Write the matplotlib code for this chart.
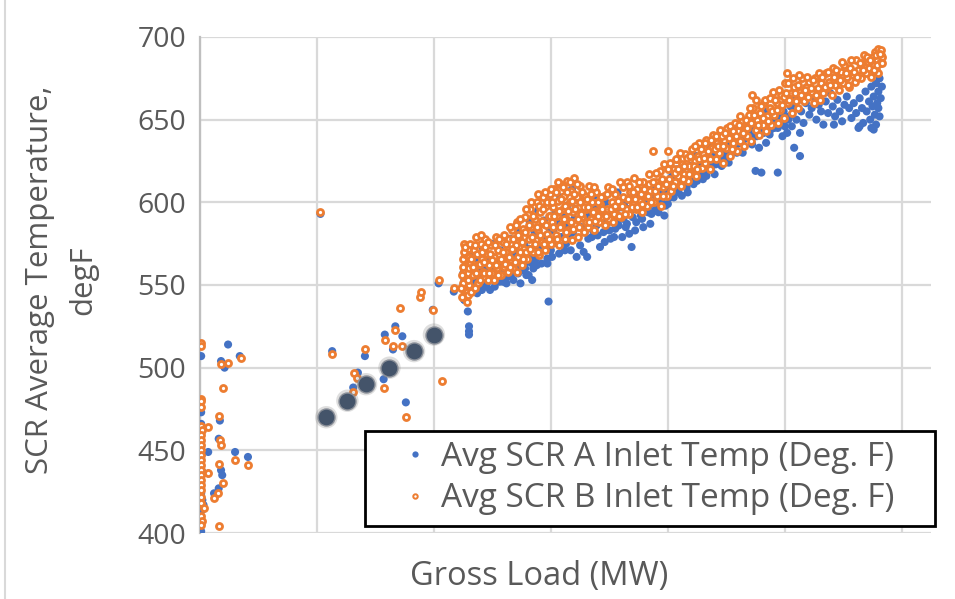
import matplotlib.pyplot as plt
from matplotlib.lines import Line2D
from matplotlib.patches import Rectangle

# ---- data (gross load in arbitrary MW units, temperature in degF) ----
# startup / low load points
a_low = [(1, 507), (1, 473), (1, 466), (1, 463), (1, 460), (1, 455), (1, 452), (2, 448),
         (1, 445), (1, 440), (2, 437), (1, 430), (1, 427), (1, 424), (2, 420), (3, 417),
         (2, 414), (1, 401), (24, 514), (18, 504), (21, 500), (34, 507), (17, 468),
         (16, 457), (7, 449), (30, 449), (41, 446), (18, 438), (19, 435), (7, 436),
         (12, 424), (16, 427)]
b_low = [(1, 515), (1, 513), (1, 481), (1, 480), (1, 476), (1, 465), (2, 462), (1, 459),
         (1, 456), (1, 453), (1, 450), (1, 447), (1, 444), (1, 441), (1, 438), (1, 435),
         (1, 432), (1, 429), (1, 426), (1, 422), (1, 418), (3, 415), (1, 410), (2, 407),
         (1, 405), (24, 503), (18, 502), (35, 506), (20, 488), (16, 471), (7, 464),
         (17, 456), (18, 453), (30, 444), (41, 441), (16, 442), (7, 436), (20, 430),
         (15, 424), (12, 421), (16, 404)]

# ramp between startup and the main operating band
a_ramp = [(103, 593), (113, 510), (141, 507), (135, 497), (131, 488), (157, 493),
          (158, 520), (167, 525), (165, 511), (173, 519), (199, 535), (204, 551),
          (217, 546), (176, 479), (226, 541)]
b_ramp = [(103, 594), (113, 508), (141, 511), (132, 497), (134, 494), (131, 485),
          (157, 488), (158, 517), (167, 523), (165, 513), (173, 513), (171, 536),
          (188, 543), (189, 546), (199, 535), (204, 553), (217, 548), (207, 492),
          (176, 470), (226, 544)]

# highlighted points
hl = [(108, 470), (126, 480), (142, 490), (162, 500), (183, 510), (200, 520)]

# main operating band
a_main = [(226, 541), (227, 545), (229, 534), (230, 525), (230, 522), (230, 520), (228, 549),
          (226, 553), (229, 558), (227, 564), (231, 570),
          (234, 552), (236, 566), (238, 548), (240, 560), (242, 572), (244, 551), (245, 549),
          (247, 566), (249, 556), (251, 575), (253, 553), (255, 563), (257, 571), (259, 552),
          (261, 566), (263, 555), (265, 578), (267, 560), (269, 570), (271, 562), (273, 583),
          (275, 559), (277, 575), (279, 556), (280, 564), (282, 588), (283, 568), (285, 560),
          (286, 582), (287, 566), (289, 595), (290, 573), (292, 563), (294, 589), (295, 578),
          (297, 566), (298, 540), (299, 600), (300, 571), (281, 556), (284, 553), (297, 563),
          (302, 583), (304, 594), (306, 575), (308, 603), (310, 585), (312, 571), (314, 598),
          (316, 580), (318, 608), (320, 590), (322, 567), (324, 601), (326, 585), (328, 570),
          (331, 567), (333, 592), (335, 579), (337, 604), (339, 586), (342, 573), (343, 595),
          (345, 582), (347, 600), (349, 588), (351, 578), (353, 597), (355, 584), (357, 606),
          (359, 590), (361, 579), (363, 600), (365, 587), (367, 581), (369, 573), (371, 596),
          (373, 588), (375, 607), (377, 592), (379, 585), (381, 600), (383, 594), (385, 587),
          (387, 605), (389, 595), (391, 598), (393, 611), (395, 600), (397, 592), (399, 606),
          (400, 599),
          (402, 603), (404, 616), (406, 608), (408, 620), (410, 612), (412, 604), (414, 617),
          (416, 609), (418, 616), (420, 620), (422, 611), (424, 628), (426, 618), (428, 623),
          (430, 614), (432, 629), (434, 620), (436, 634), (438, 624), (440, 617), (442, 631),
          (444, 626), (446, 622), (448, 637), (450, 630), (452, 624), (454, 640), (456, 633),
          (459, 630), (460, 644), (462, 636), (464, 630), (466, 641), (475, 619), (480, 618),
          (472, 635), (474, 645), (476, 640), (478, 633), (481, 647), (482, 642), (484, 636),
          (486, 650), (488, 644), (494, 618), (492, 648), (494, 645), (496, 653), (498, 640),
          (500, 646), (502, 642), (508, 633), (513, 628), (513, 642),
          (504, 652), (506, 646), (508, 658), (510, 650), (512, 662), (514, 655), (516, 648),
          (518, 660), (520, 668), (521, 653), (523, 657), (525, 664), (527, 650), (529, 659),
          (531, 655), (533, 647), (535, 661), (537, 654), (539, 666), (541, 658), (543, 652),
          (545, 662), (547, 655), (549, 649), (551, 659), (553, 664), (555, 657), (557, 651),
          (559, 660), (561, 654), (563, 645), (564, 663), (566, 657), (567, 648), (569, 667),
          (570, 655), (572, 661), (573, 650), (574, 670), (575, 658), (576, 664), (577, 653),
          (578, 672), (579, 660), (580, 667), (581, 675), (582, 663), (583, 670), (580, 657),
          (581, 652), (578, 647), (576, 644), (564, 646), (574, 645), (542, 647)]

# A points sitting mostly underneath the B band
a_fill = [(225, 557), (228, 553), (232, 549), (235, 558), (237, 545), (239, 555), (241, 547),
          (243, 560), (246, 552), (248, 547), (250, 560), (252, 549), (254, 558), (256, 552),
          (258, 560), (260, 556), (262, 551), (264, 562), (266, 556), (268, 553), (270, 566),
          (272, 557), (274, 551), (276, 566), (278, 560), (281, 572), (284, 563), (286, 571),
          (288, 562), (291, 578), (293, 571), (296, 575), (299, 584), (301, 567), (303, 576),
          (305, 588), (307, 569), (309, 579), (311, 591), (313, 575), (315, 586), (317, 571),
          (319, 582), (321, 596), (323, 585), (325, 574), (327, 595), (329, 582), (332, 578),
          (334, 590), (336, 583), (338, 596), (340, 580), (344, 588), (346, 576), (348, 593),
          (350, 583), (352, 591), (354, 579), (356, 596), (358, 586), (360, 597), (362, 590),
          (364, 585), (366, 596), (368, 602), (370, 591), (372, 583), (374, 597), (376, 603),
          (378, 590), (380, 596), (382, 607), (384, 598), (386, 593), (388, 608), (390, 601),
          (392, 594), (394, 605), (396, 613), (398, 598), (401, 610), (403, 615), (405, 603),
          (407, 612), (409, 606), (411, 620), (413, 610), (415, 614), (417, 606), (419, 622),
          (421, 615), (423, 620), (425, 613), (427, 624), (429, 618), (431, 625), (433, 616),
          (435, 627), (437, 620), (439, 630), (441, 623), (443, 635), (445, 628), (447, 632),
          (449, 627), (451, 636), (453, 631), (455, 642), (457, 637), (459, 635), (461, 640),
          (463, 645), (465, 638), (467, 648), (469, 642), (471, 650), (473, 640), (477, 649),
          (479, 644), (483, 648), (485, 655), (487, 641), (489, 652), (491, 645), (493, 651),
          (495, 658), (497, 648), (499, 655), (501, 660), (503, 650), (505, 658), (507, 662)]

b_main = [(224, 543), (226, 547), (225, 551), (227, 555), (226, 559), (228, 562), (225, 566),
          (227, 569), (229, 572), (226, 575), (228, 546), (230, 550), (229, 557), (231, 563),
          (228, 540), (230, 567),
          (233, 556), (234, 571), (236, 579), (237, 562), (238, 551), (240, 575), (241, 566),
          (242, 558), (244, 578), (245, 569), (246, 553), (247, 562), (249, 574), (250, 557),
          (251, 567), (253, 579), (254, 560), (255, 571), (257, 556), (258, 565), (259, 576),
          (260, 561),
          (262, 570), (263, 558), (264, 578), (266, 565), (267, 583), (268, 560), (270, 574),
          (271, 588), (272, 567), (273, 579), (275, 562), (276, 584), (277, 572), (278, 591),
          (280, 566), (281, 578), (282, 596), (283, 585), (285, 570), (286, 590), (287, 577),
          (288, 600), (289, 583), (290, 568), (291, 594), (292, 576), (293, 603), (294, 587),
          (295, 571), (296, 598), (297, 581), (298, 592), (299, 605), (300, 575), (301, 588),
          (302, 597), (303, 608), (304, 580), (305, 592), (306, 601), (307, 574), (308, 611),
          (309, 586), (310, 596), (311, 604), (312, 578), (313, 590), (314, 613), (315, 583),
          (316, 600), (317, 607), (318, 577), (319, 594), (320, 615), (321, 586), (322, 603),
          (323, 579), (324, 597), (325, 610),
          (327, 591), (328, 582), (329, 604), (330, 596), (332, 585), (333, 610), (334, 590),
          (335, 600), (337, 583), (338, 595), (339, 606), (341, 588), (342, 599), (343, 591),
          (345, 604), (346, 586), (348, 596), (349, 609), (350, 590), (352, 600), (353, 588),
          (355, 605), (356, 593), (358, 598), (359, 612), (360, 591),
          (362, 603), (364, 596), (365, 612), (367, 593), (368, 606), (370, 599), (371, 615),
          (373, 596), (374, 608), (376, 601), (378, 594), (379, 612), (381, 604), (382, 598),
          (384, 617), (385, 607), (387, 631), (388, 600), (390, 612), (391, 604), (393, 619),
          (394, 598), (396, 609), (397, 623), (399, 604), (400, 631), (401, 614),
          (403, 607), (405, 620), (406, 612), (408, 626), (409, 616), (411, 610), (412, 623),
          (414, 617), (415, 629), (417, 613), (418, 622), (420, 618), (421, 632), (423, 625),
          (424, 616), (426, 628), (427, 636), (429, 621), (430, 630), (432, 624), (433, 638),
          (435, 627), (436, 620), (438, 633), (439, 641), (441, 626), (442, 636), (444, 630),
          (445, 644),
          (447, 624), (448, 638), (450, 633), (451, 645), (453, 628), (454, 640), (456, 636),
          (457, 648), (459, 631), (460, 643), (462, 637), (463, 649), (465, 634), (466, 645),
          (468, 640), (469, 653), (471, 637), (472, 665), (473, 657), (475, 644), (476, 650),
          (478, 641), (479, 654), (481, 647), (482, 660), (484, 643), (485, 652), (487, 657),
          (488, 647), (490, 667), (491, 653), (493, 660), (494, 648), (496, 656), (497, 665),
          (499, 651), (500, 672),
          (502, 678), (503, 660), (505, 666), (506, 654), (508, 670), (510, 661), (511, 657),
          (513, 667), (515, 675), (516, 661), (518, 670), (520, 664), (521, 673), (523, 667),
          (525, 660), (526, 675), (528, 669), (530, 662), (531, 672), (533, 666), (535, 678),
          (536, 669), (538, 673), (540, 665), (541, 681), (543, 671), (545, 675), (546, 668),
          (548, 679), (550, 672), (551, 683), (553, 676), (555, 670), (556, 681), (558, 677),
          (560, 673), (561, 686), (563, 680), (565, 675), (566, 684), (568, 689), (569, 678),
          (571, 685), (572, 681), (574, 676), (575, 688), (576, 683), (577, 691), (578, 680),
          (579, 686), (580, 693), (581, 684), (582, 689), (583, 688), (580, 678), (582, 692)]

# more B points filling the dense part of the band
b_fill = [(223, 548), (224, 556), (225, 561), (226, 570), (227, 573), (229, 544), (229, 553),
          (230, 560), (231, 575), (232, 546), (232, 566), (233, 561), (235, 548), (235, 574),
          (236, 557), (237, 569), (239, 563), (239, 553), (240, 580), (241, 570), (243, 557),
          (243, 564), (244, 573), (246, 576), (247, 557), (248, 569), (250, 565), (251, 553),
          (252, 574), (253, 562), (255, 556), (256, 578), (257, 566), (259, 570), (260, 580),
          (261, 563), (262, 575), (264, 567), (265, 561), (265, 585), (267, 572), (268, 578),
          (269, 564), (270, 586), (271, 558), (272, 580), (274, 570), (274, 590), (275, 576),
          (276, 566), (278, 582), (279, 570), (279, 596), (281, 586), (282, 572), (283, 600),
          (284, 579), (285, 592), (286, 575), (288, 585), (289, 570), (289, 605), (290, 598),
          (291, 580), (292, 589), (293, 596), (294, 575), (295, 606), (296, 586), (297, 600),
          (298, 578), (299, 592), (300, 608),
          (301, 600), (302, 585), (303, 592), (304, 606), (305, 578), (306, 612), (307, 595),
          (308, 585), (309, 602), (310, 609), (311, 590), (312, 598), (313, 582), (314, 606),
          (315, 595), (316, 612), (317, 588), (318, 601), (319, 584), (320, 605), (321, 596),
          (322, 611), (323, 590), (324, 585), (325, 600), (326, 593), (327, 606), (328, 597),
          (330, 588), (331, 602), (332, 597), (333, 588), (334, 605), (336, 594), (337, 609),
          (338, 589), (340, 600), (340, 592),
          (343, 603), (344, 596), (347, 592), (348, 605), (351, 596), (352, 608), (354, 593),
          (355, 598), (357, 601), (358, 592), (361, 598), (362, 609), (363, 593), (366, 602),
          (367, 610), (369, 597), (370, 606), (372, 602), (374, 597), (375, 612), (377, 605),
          (378, 599), (380, 608), (383, 604), (384, 611), (386, 600), (387, 612), (389, 607),
          (390, 618), (392, 610), (395, 614), (396, 604), (398, 611), (400, 620), (402, 624),
          (404, 610), (406, 618), (407, 626), (409, 620), (410, 630), (413, 614), (414, 622),
          (416, 627), (418, 617),
          (419, 628), (422, 622), (423, 634), (425, 620), (427, 626), (428, 632), (431, 627),
          (432, 636), (434, 631), (436, 626), (437, 638), (440, 632), (441, 640), (443, 634),
          (446, 640), (447, 634), (449, 642), (452, 639), (453, 646), (455, 632), (456, 643),
          (458, 640), (461, 647), (462, 652), (464, 642), (467, 650), (468, 645), (470, 657),
          (471, 648), (474, 653), (475, 662), (477, 647), (480, 658), (481, 651), (483, 662),
          (486, 649), (487, 663), (489, 655), (492, 662), (493, 656), (495, 668), (498, 659),
          (499, 664),
          (501, 666), (503, 672), (504, 662), (507, 675), (509, 666), (511, 671), (512, 677),
          (514, 665), (517, 668), (519, 676), (522, 669), (524, 674), (527, 665), (529, 678),
          (532, 676), (534, 670), (537, 679), (539, 671), (542, 676), (544, 680), (547, 674),
          (549, 685), (552, 678), (554, 671), (557, 686), (559, 679), (562, 676), (564, 684),
          (567, 680), (570, 688), (573, 686), (576, 680), (578, 689), (579, 683), (581, 690),
          (583, 684)]

series_labels = ['Avg SCR A Inlet Temp (Deg. F)', 'Avg SCR B Inlet Temp (Deg. F)']
y_ticks = [400, 450, 500, 550, 600, 650, 700]

blue = '#4472c4'
orange = '#ed7d31'
txt = '#595959'
font = 'Open Sans'

a_pts = a_low + a_ramp + a_main + a_fill
b_pts = b_low + b_ramp + b_main + b_fill

W, H = 955, 599
fig = plt.figure(figsize=(W / 100, H / 100), dpi=100)
ax = fig.add_axes([200 / W, 1 - 533 / H, 731 / W, 496 / H])

ax.scatter([p[0] for p in a_pts], [p[1] for p in a_pts], s=34, color=blue,
           edgecolors='none', zorder=3)
ax.scatter([p[0] for p in b_pts], [p[1] for p in b_pts], s=19, facecolors='white',
           edgecolors=orange, linewidths=2.0, zorder=4)
# highlighted points with soft halo
hx = [p[0] for p in hl]
hy = [p[1] for p in hl]
ax.scatter(hx, hy, s=260, color='#7f7f7f', alpha=0.25, edgecolors='none', zorder=5)
ax.scatter(hx, hy, s=150, color='#44546a', edgecolors='#8a8f98', linewidths=1.0, zorder=6)

ax.set_xlim(0, 625)
ax.set_ylim(400, 700)
ax.set_xticks([0, 100, 200, 300, 400, 500, 600])
ax.set_yticks(y_ticks)
ax.set_xticklabels([])
ax.grid(True, color='#d9d9d9', linewidth=1.6, zorder=0)
ax.set_axisbelow(True)
ax.tick_params(length=0, pad=10)
for lab in ax.get_yticklabels():
    lab.set_fontfamily(font)
    lab.set_fontsize(20.5)
    lab.set_color(txt)
for s in ['top', 'right', 'bottom']:
    ax.spines[s].set_visible(False)
ax.spines['left'].set_color('#bfbfbf')
ax.spines['left'].set_linewidth(1.6)

fig.text(40 / W, 1 - 280 / H, 'SCR Average Temperature,', rotation=90, ha='center',
         va='center', fontsize=22.5, color=txt, family=font)
fig.text(83 / W, 1 - 280 / H, 'degF', rotation=90, ha='center', va='center',
         fontsize=22.5, color=txt, family=font)
fig.text(539 / W, 1 - 576 / H, 'Gross Load (MW)', ha='center', va='center',
         fontsize=23.5, color=txt, family=font)

# legend: black box drawn separately, entries placed inside it
fig.add_artist(Rectangle((365 / W, 1 - 526 / H), 570 / W, 95 / H, transform=fig.transFigure,
                         facecolor='white', edgecolor='black', linewidth=2, zorder=10))
handles = [Line2D([], [], marker='o', linestyle='none', markersize=4.5,
                  markerfacecolor=blue, markeredgecolor='none'),
           Line2D([], [], marker='o', linestyle='none', markersize=3.2,
                  markerfacecolor='white', markeredgecolor=orange, markeredgewidth=1.4)]
leg = fig.legend(handles, series_labels, loc='center left',
                 bbox_to_anchor=(402 / W, 1 - 478 / H), frameon=False,
                 prop={'family': font, 'size': 24}, labelcolor=txt, handletextpad=0.36,
                 borderpad=0, labelspacing=0.25, handlelength=0.8, borderaxespad=0)
leg.set_zorder(11)

# chart border at left edge
fig.add_artist(Line2D([5 / W, 5 / W], [0, 1], color='#d9d9d9', linewidth=1.5))

fig.savefig('out.png', dpi=100)
